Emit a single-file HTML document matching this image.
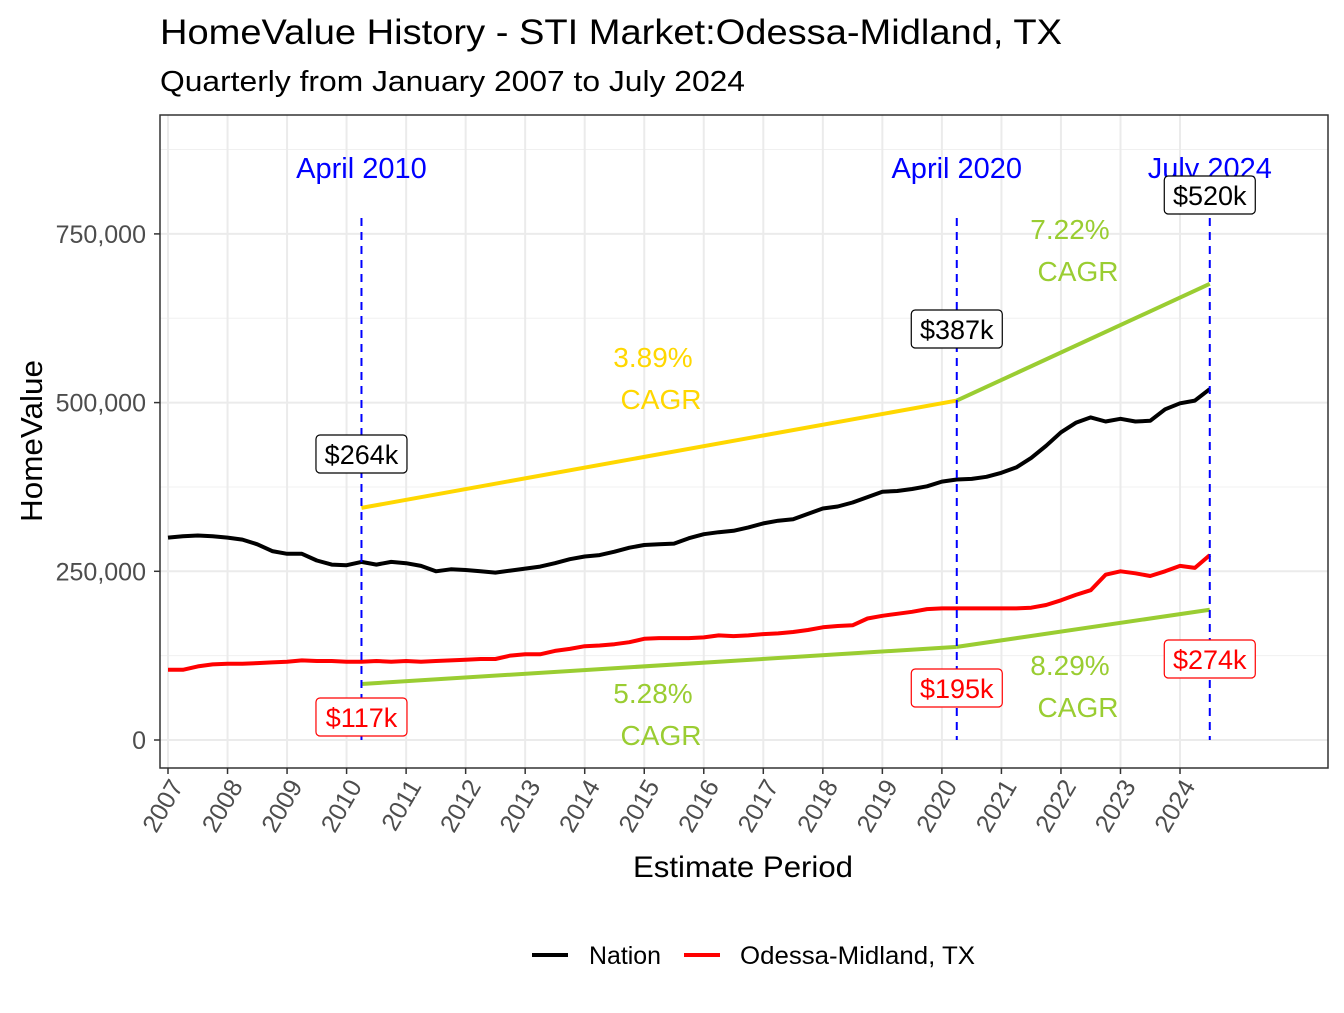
<!DOCTYPE html>
<html><head><meta charset="utf-8"><style>
body{margin:0;background:#fff;font-family:"Liberation Sans",Arial,sans-serif}
svg text{font-family:"Liberation Sans",Arial,sans-serif}
</style></head><body>
<svg id="chart" width="1344" height="1008" xmlns="http://www.w3.org/2000/svg">
<rect width="1344" height="1008" fill="#fff"/>
<text x="160" y="44" font-size="35" textLength="902" lengthAdjust="spacingAndGlyphs" fill="#000">HomeValue History - STI Market:Odessa-Midland, TX</text>
<text x="160" y="91" font-size="29" textLength="585" lengthAdjust="spacingAndGlyphs" fill="#000">Quarterly from January 2007 to July 2024</text>
<g id="grid"></g>
<g id="marks"></g>
<rect x="160" y="115" width="1168" height="653" fill="none" stroke="#333" stroke-width="1.5"/>
<g id="axes"></g>
<text transform="translate(42,441) rotate(-90)" text-anchor="middle" font-size="31" textLength="162" lengthAdjust="spacingAndGlyphs">HomeValue</text>
<text x="743" y="877" text-anchor="middle" font-size="30" textLength="220" lengthAdjust="spacingAndGlyphs">Estimate Period</text>
<g>
<line x1="532" y1="955" x2="568" y2="955" stroke="#000" stroke-width="4"/>
<text x="589" y="964" font-size="25" textLength="72" lengthAdjust="spacingAndGlyphs">Nation</text>
<line x1="684" y1="955" x2="720" y2="955" stroke="#f00" stroke-width="4"/>
<text x="740" y="964" font-size="25" textLength="235" lengthAdjust="spacingAndGlyphs">Odessa-Midland, TX</text>
</g>
</svg>
<script>
const years=[2007,2008,2009,2010,2011,2012,2013,2014,2015,2016,2017,2018,2019,2020,2021,2022,2023,2024];
const yTicks=[0,250000,500000,750000];
const yTickLabels=["0","250,000","500,000","750,000"];
const nation=[300,302,303,302,300,297,290,280,276,276,266,260,259,264,260,264,262,258,250,253,252,250,248,251,254,257,262,268,272,274,279,285,289,290,291,299,305,308,310,315,321,325,327,335,343,346,352,360,368,369,372,376,383,386,387,390,396,404,418,436,456,470,478,472,476,472,473,490,499,503,520];
const odessa=[104,104,109,112,113,113,114,115,116,118,117,117,116,116,117,116,117,116,117,118,119,120,120,125,127,127,132,135,139,140,142,145,150,151,151,151,152,155,154,155,157,158,160,163,167,169,170,180,184,187,190,194,195,195,195,195,195,195,196,200,207,215,222,245,250,247,243,250,258,255,274];
const cagrTimes=[2010.25,2020.25,2024.5];
const upperCagr=[344,503,676];
const lowerCagr=[83,138,193];
const eventLabels=["April 2010","April 2020","July 2024"];
const nationLabels=["$264k","$387k","$520k"];
const odessaLabels=["$117k","$195k","$274k"];
const cagrText=["3.89%","7.22%","5.28%","8.29%"];

const NS="http://www.w3.org/2000/svg";
const X=t=>168+(t-2007)*59.53;
const Y=v=>740-v/250000*168.7;
function mk(parent,tag,attrs,name,text){const e=document.createElementNS(NS,tag);for(const k in attrs)e.setAttribute(k,attrs[k]);


if(text!==undefined)e.textContent=text;parent.appendChild(e);return e;}
const grid=document.getElementById('grid'),marks=document.getElementById('marks'),axes=document.getElementById('axes');
mk(grid,'rect',{x:160,y:115,width:1168,height:653,fill:'#fff'},'panel-bg');
[125000,375000,625000,875000].forEach(v=>mk(grid,'line',{x1:160,x2:1328,y1:Y(v),y2:Y(v),stroke:'#f0f0f0','stroke-width':1},'minor-gridline'));
yTicks.forEach((v,i)=>{mk(grid,'line',{x1:160,x2:1328,y1:Y(v),y2:Y(v),stroke:'#ebebeb','stroke-width':2},'y-gridline');
mk(axes,'line',{x1:154,x2:160,y1:Y(v),y2:Y(v),stroke:'#333','stroke-width':1.5},'y-tick');
mk(axes,'text',{x:146,y:Y(v)+9,'text-anchor':'end','font-size':25,fill:'#4d4d4d'},'y-tick-label',yTickLabels[i]);});
years.forEach(yr=>{const x=X(yr);mk(grid,'line',{x1:x,x2:x,y1:115,y2:768,stroke:'#ebebeb','stroke-width':2},'x-gridline');
mk(axes,'line',{x1:x,x2:x,y1:768,y2:774,stroke:'#333','stroke-width':1.5},'x-tick');
mk(axes,'text',{transform:`translate(${x+16},${786}) rotate(-60)`,'text-anchor':'end','font-size':25,fill:'#4d4d4d'},'x-tick-label',String(yr));});
function series(arr,color,name){const d=arr.map((v,i)=>(i?'L':'M')+X(2007+i/4).toFixed(1)+','+Y(v*1000).toFixed(1)).join('');
mk(marks,'path',{d,fill:'none',stroke:color,'stroke-width':4,'stroke-linejoin':'round'},name);}
series(nation,'#000','nation-line');series(odessa,'#f00','odessa-line');
function seg(a,b,vals,color,name){mk(marks,'line',{x1:X(cagrTimes[a]),y1:Y(vals[a]*1000),x2:X(cagrTimes[b]),y2:Y(vals[b]*1000),stroke:color,'stroke-width':4},name);}
seg(0,1,upperCagr,'#ffd700','nation-cagr-2010-2020');
seg(1,2,upperCagr,'#9acd32','nation-cagr-2020-2024');
seg(0,1,lowerCagr,'#9acd32','odessa-cagr-2010-2020');
seg(1,2,lowerCagr,'#9acd32','odessa-cagr-2020-2024');
cagrTimes.forEach((t,i)=>{const x=X(t);
mk(marks,'line',{x1:x,x2:x,y1:218,y2:740,stroke:'#00f','stroke-width':2,'stroke-dasharray':'8,6'},'event-vline');
mk(marks,'text',{x:x,y:178,'text-anchor':'middle','font-size':29,fill:'#00f'},'event-label',eventLabels[i]);});
function box(x,y,txt,color,name){const w=txt.length*15+16;
mk(marks,'rect',{x:x-w/2,y:y-19,width:w,height:38,rx:4,fill:'#fff',stroke:color,'stroke-width':1.2},name+'-box');
mk(marks,'text',{x:x,y:y+10,'text-anchor':'middle','font-size':27,fill:color},name,txt);}
box(X(cagrTimes[0]),454,nationLabels[0],'#000','nation-value-label');
box(X(cagrTimes[1]),329,nationLabels[1],'#000','nation-value-label');
box(X(cagrTimes[2]),195,nationLabels[2],'#000','nation-value-label');
box(X(cagrTimes[0]),717,odessaLabels[0],'#f00','odessa-value-label');
box(X(cagrTimes[1]),688,odessaLabels[1],'#f00','odessa-value-label');
box(X(cagrTimes[2]),659,odessaLabels[2],'#f00','odessa-value-label');
function cagr(x,y,pct,color){mk(marks,'text',{x:x,y:y,'text-anchor':'middle','font-size':28,fill:color},'cagr-percent',pct);
mk(marks,'text',{x:x+8,y:y+42,'text-anchor':'middle','font-size':28,fill:color},'cagr-label','CAGR');}
cagr(653,367,cagrText[0],'#ffd700');
cagr(1070,239,cagrText[1],'#9acd32');
cagr(653,703,cagrText[2],'#9acd32');
cagr(1070,675,cagrText[3],'#9acd32');
</script>
</body></html>
